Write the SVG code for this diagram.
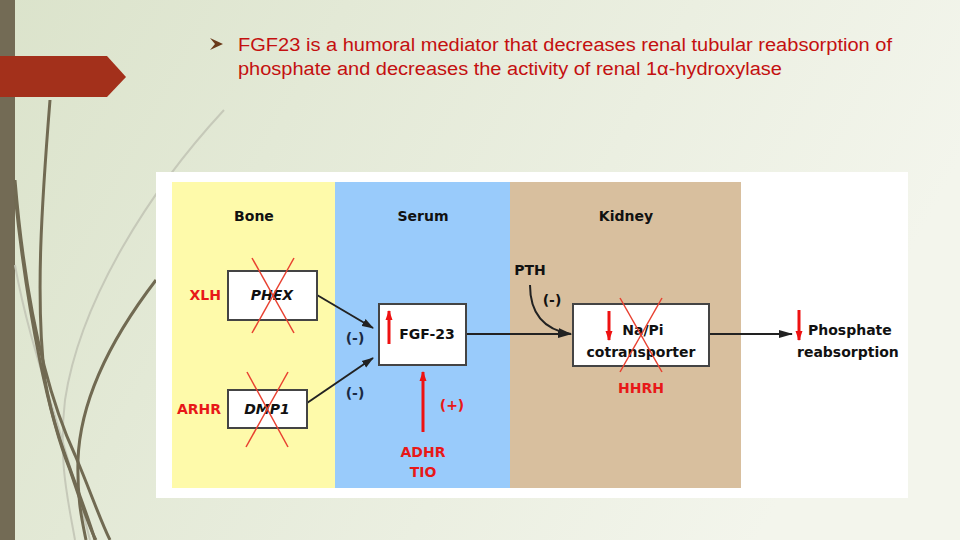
<svg xmlns="http://www.w3.org/2000/svg" width="960" height="540" viewBox="0 0 960 540">
<defs>
<linearGradient id="bg" x1="0" y1="0" x2="1" y2="0.3">
<stop offset="0" stop-color="#dbe3cb"/>
<stop offset="1" stop-color="#f3f5ec"/>
</linearGradient>
<marker id="ahb" viewBox="0 0 14 9" refX="13" refY="4.5" markerWidth="14" markerHeight="9" orient="auto" markerUnits="userSpaceOnUse">
<path d="M0,0.5 L14,4.5 L0,8.5 z" fill="#222"/>
</marker>
<marker id="ahs" viewBox="0 0 12 9" refX="11" refY="4.5" markerWidth="12" markerHeight="9" orient="auto" markerUnits="userSpaceOnUse">
<path d="M0,0.5 L12,4.5 L0,8.5 z" fill="#222"/>
</marker>
<marker id="ahr" viewBox="0 0 10 8" refX="9" refY="4" markerWidth="10" markerHeight="8" orient="auto" markerUnits="userSpaceOnUse">
<path d="M0,0.5 L10,4 L0,7.5 z" fill="#ee1111"/>
</marker>
</defs>
<style>
.t{font-family:"DejaVu Sans",Verdana,sans-serif;font-weight:bold;font-size:14px;fill:#111}
.c{text-anchor:middle}
.e{text-anchor:end}
.red{fill:#e81818}
.neg{fill:#1a2a44}
.it{font-style:italic}
.box{fill:#fff;stroke:#444;stroke-width:2}
.x{stroke:#e84030;stroke-width:1.5;fill:none}
.conn{stroke:#222;stroke-width:2;fill:none}
.rarr{stroke:#ee1111;stroke-width:3;fill:none}
.deco{fill:none;stroke:#716a52;stroke-width:3}
.ttl{font-family:"Liberation Sans",Arial,sans-serif;font-size:18px;fill:#c41010}
</style>
<rect width="960" height="540" fill="url(#bg)"/>
<g id="decoration">
<rect x="0" y="0" width="15" height="540" fill="#736b55"/>
<path d="M224,110 C150,190 80,300 65,400 C58,460 68,500 75,540" fill="none" stroke="#c6c9b9" stroke-width="2"/>
<path d="M15,265 C30,350 60,420 90,540" fill="none" stroke="#c6c9b9" stroke-width="2"/>
<path d="M50,100 C42,200 35,300 45,380 C55,440 80,490 95,540" class="deco" stroke-width="2"/>
<path d="M15,180 C25,300 45,390 75,455 C90,490 100,520 110,540" class="deco"/>
<path d="M15,195 C28,320 50,420 70,470 C80,500 90,530 96,540" class="deco" stroke-width="2.5"/>
<path d="M156,280 C110,340 80,400 78,460 C77,500 82,520 86,540" class="deco"/>
<path d="M0,56 L107,56 L126,77 L107,97 L0,97 Z" fill="#a3301b"/>
</g>
<g id="title">
<path d="M210,38 L223,44 L210,50 L215,44 Z" fill="#6b3a1a"/>
<text class="ttl" x="238" y="51" textLength="654" lengthAdjust="spacingAndGlyphs">FGF23 is a humoral mediator that decreases renal tubular reabsorption of</text>
<text class="ttl" x="238" y="75" textLength="544" lengthAdjust="spacingAndGlyphs">phosphate and decreases the activity of renal 1α-hydroxylase</text>
</g>
<g id="panel">
<rect x="156" y="172" width="752" height="326" fill="#fff"/>
<rect x="172" y="182" width="163" height="306" fill="#fefaaa"/>
<rect x="335" y="182" width="175" height="306" fill="#99cbfb"/>
<rect x="510" y="182" width="231" height="306" fill="#d8bf9e"/>
<text class="t c" x="254" y="221">Bone</text>
<text class="t c" x="423" y="221">Serum</text>
<text class="t c" x="626" y="221">Kidney</text>
</g>
<g id="connectors">
<line class="conn" x1="317" y1="295" x2="373" y2="328" marker-end="url(#ahs)"/>
<line class="conn" x1="307" y1="403" x2="373" y2="358" marker-end="url(#ahs)"/>
<line class="conn" x1="466" y1="334" x2="571" y2="334" marker-end="url(#ahb)"/>
<path class="conn" d="M530,285 C530,315 545,330 571,334" marker-end="url(#ahb)"/>
<line class="conn" x1="709" y1="334" x2="792" y2="334" marker-end="url(#ahb)"/>
<line class="rarr" x1="423" y1="432" x2="423" y2="372" marker-end="url(#ahr)"/>
<text class="t c neg" x="355" y="343">(-)</text>
<text class="t c neg" x="355" y="398">(-)</text>
<text class="t c red" x="452" y="410">(+)</text>
<text class="t c" x="552" y="305">(-)</text>
</g>
<g id="phex">
<rect class="box" x="228" y="271" width="89" height="49"/>
<text class="t c it" x="272" y="300">PHEX</text>
<line class="x" x1="252" y1="258" x2="294" y2="333"/>
<line class="x" x1="294" y1="258" x2="252" y2="333"/>
<text class="t e red" x="221" y="300">XLH</text>
</g>
<g id="dmp1">
<rect class="box" x="228" y="390" width="79" height="38"/>
<text class="t c it" x="267" y="414">DMP1</text>
<line class="x" x1="247" y1="372" x2="288" y2="447"/>
<line class="x" x1="288" y1="372" x2="246" y2="447"/>
<text class="t e red" x="221" y="414">ARHR</text>
</g>
<g id="fgf23">
<rect class="box" x="379" y="304" width="87" height="61"/>
<line class="rarr" x1="389" y1="344" x2="389" y2="311" marker-end="url(#ahr)"/>
<text class="t c" x="427" y="339">FGF-23</text>
</g>
<g id="adhr">
<text class="t c red" x="423" y="457">ADHR</text>
<text class="t c red" x="423" y="477">TIO</text>
</g>
<g id="pth">
<text class="t c" x="530" y="275">PTH</text>
</g>
<g id="napi">
<rect class="box" x="573" y="304" width="136" height="62"/>
<line class="rarr" x1="609" y1="311" x2="609" y2="340" marker-end="url(#ahr)"/>
<text class="t c" x="643" y="335">Na/Pi</text>
<text class="t c" x="641" y="357">cotransporter</text>
<line class="x" x1="620" y1="298" x2="662" y2="372"/>
<line class="x" x1="662" y1="298" x2="620" y2="372"/>
<text class="t c red" x="641" y="393">HHRH</text>
</g>
<g id="phosphate">
<line class="rarr" x1="799" y1="310" x2="799" y2="340" marker-end="url(#ahr)"/>
<text class="t" x="808" y="335">Phosphate</text>
<text class="t" x="797" y="357">reabsorption</text>
</g>
</svg>
